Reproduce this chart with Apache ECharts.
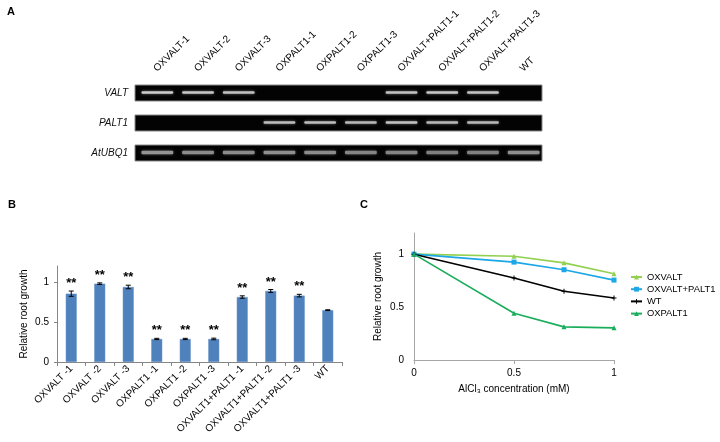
<!DOCTYPE html>
<html><head><meta charset="utf-8">
<script src="https://cdn.jsdelivr.net/npm/echarts@6/dist/echarts.min.js"></script>
<style>html,body{margin:0;padding:0;background:#fff}#c{width:720px;height:442px}</style>
</head><body><div id="c"></div>
<script>
// Panel A: RT-PCR gel
const lanes = ['OXVALT-1','OXVALT-2','OXVALT-3','OXPALT1-1','OXPALT1-2','OXPALT1-3','OXVALT+PALT1-1','OXVALT+PALT1-2','OXVALT+PALT1-3','WT'];
const genes = ['VALT','PALT1','AtUBQ1'];
const valtBands  = [0.8,0.78,0.76,0,0,0,0.76,0.78,0.76,0];
const palt1Bands = [0,0,0,0.74,0.74,0.72,0.76,0.72,0.72,0];
const ubqBands   = [0.58,0.55,0.55,0.56,0.55,0.52,0.52,0.5,0.5,0.56];

// Panel B: relative root growth
const barCategories = ['OXVALT -1','OXVALT -2','OXVALT -3','OXPALT1 -1','OXPALT1 -2','OXPALT1 -3','OXVALT1+PALT1 -1','OXVALT1+PALT1 -2','OXVALT1+PALT1 -3','WT'];
const barMeans  = [0.854,0.979,0.938,0.288,0.288,0.288,0.812,0.888,0.830,0.648];
const barErrors = [0.033,0.010,0.022,0.008,0.008,0.010,0.015,0.018,0.016,0.005];
const barSignif = ['**','**','**','**','**','**','**','**','**',''];
const barTicks = [0, 0.5, 1];

// Panel C: dose response
const alclConc = [0, 0.5, 0.75, 1];
const oxvalt      = [1, 0.981, 0.918, 0.815];
const oxvaltPalt1 = [1, 0.925, 0.853, 0.755];
const wt          = [1, 0.774, 0.649, 0.586];
const oxpalt1     = [1, 0.442, 0.313, 0.304];

const FONT = 'Liberation Sans, Arial, sans-serif';
const gelRows = [valtBands, palt1Bands, ubqBands];
const bandData = [];
gelRows.forEach((row, g) => row.forEach((v, l) => bandData.push([l, g, v])));
const stripData = genes.map((g, i) => [0, i]);

const chart = echarts.init(document.getElementById('c'), null, {renderer: 'canvas'});
const lineSeries = (name, data, color, symbol, size) => ({
  type: 'line', name, xAxisIndex: 2, yAxisIndex: 2,
  data: alclConc.map((x, i) => [x, data[i]]),
  symbol, symbolSize: size,
  lineStyle: {color, width: 1.6}, itemStyle: {color}, showSymbol: true, z: 3
});

chart.setOption({
  animation: false,
  textStyle: {fontFamily: FONT},
  title: [
    {text: 'A', left: 2, top: 1, textStyle: {fontSize: 11, fontWeight: 'bold', color: '#000'}},
    {text: 'B', left: 3, top: 194, textStyle: {fontSize: 11, fontWeight: 'bold', color: '#000'}},
    {text: 'C', left: 355, top: 194, textStyle: {fontSize: 11, fontWeight: 'bold', color: '#000'}}
  ],
  legend: {
    orient: 'vertical', left: 630, top: 272.5, padding: 0, itemWidth: 11, itemHeight: 6, itemGap: 3.2,
    textStyle: {fontSize: 9.4, color: '#000', fontFamily: FONT},
    data: ['OXVALT', 'OXVALT+PALT1', 'WT', 'OXPALT1']
  },
  grid: [
    {left: 135, width: 407, top: 78, height: 90},
    {left: 57, right: 378, top: 266, bottom: 80},
    {left: 414, right: 106, top: 233, bottom: 82}
  ],
  xAxis: [
    {gridIndex: 0, type: 'category', data: lanes, position: 'top',
     axisLine: {show: false}, axisTick: {show: false},
     axisLabel: {rotate: -45, interval: 0, margin: 8, fontSize: 10, color: '#000'}},
    {gridIndex: 1, type: 'category', data: barCategories,
     axisLine: {lineStyle: {color: '#868686'}},
     axisTick: {show: true, length: 4, lineStyle: {color: '#868686'}},
     axisLabel: {rotate: 45, interval: 0, margin: 5, fontSize: 10, color: '#000'}},
    {gridIndex: 2, type: 'value', min: 0, max: 1, interval: 0.5,
     axisLine: {show: true, lineStyle: {color: '#a6a6a6'}},
     axisTick: {show: true, length: 4, lineStyle: {color: '#a6a6a6'}},
     splitLine: {show: false},
     axisLabel: {margin: 8, fontSize: 10, color: '#000', formatter: v => String(v)},
     name: 'AlCl\u2083 concentration (mM)', nameLocation: 'middle', nameGap: 24,
     nameTextStyle: {fontSize: 10, color: '#000'}}
  ],
  yAxis: [
    {gridIndex: 0, type: 'category', data: genes, inverse: true,
     axisLine: {show: false}, axisTick: {show: false},
     axisLabel: {fontStyle: 'italic', fontSize: 10, color: '#111', margin: 7}},
    {gridIndex: 1, type: 'value', min: 0, max: 1.2, interval: 0.5,
     axisLine: {show: true, lineStyle: {color: '#868686'}},
     axisTick: {show: true, length: 3, lineStyle: {color: '#868686'}},
     splitLine: {show: false},
     axisLabel: {showMaxLabel: false, margin: 8, fontSize: 10, color: '#000',
       formatter: v => barTicks.includes(v) ? String(v) : ''},
     name: 'Relative root growth', nameLocation: 'middle', nameGap: 28,
     nameTextStyle: {fontSize: 10, color: '#000'}},
    {gridIndex: 2, type: 'value', min: 0, max: 1.2, interval: 0.5,
     axisLine: {show: true, lineStyle: {color: '#a6a6a6'}},
     axisTick: {show: false},
     splitLine: {show: false},
     axisLabel: {showMaxLabel: false, margin: 10, fontSize: 10, color: '#000',
       formatter: v => barTicks.includes(v) ? String(v) : ''},
     name: 'Relative root growth', nameLocation: 'middle', nameGap: 31,
     nameTextStyle: {fontSize: 10, color: '#000'}}
  ],
  series: [
    {type: 'custom', xAxisIndex: 0, yAxisIndex: 0, data: stripData, z: 1, silent: true,
     renderItem: (params, api) => {
       const cs = params.coordSys;
       const cy = api.coord([0, api.value(1)])[1];
       return {type: 'rect', shape: {x: cs.x, y: cy - 8, width: cs.width, height: 16},
               style: {fill: '#030303', stroke: '#8a8a8a', lineWidth: 1}};
     }},
    {type: 'custom', xAxisIndex: 0, yAxisIndex: 0, data: bandData, z: 2, silent: true,
     renderItem: (params, api) => {
       const v = api.value(2);
       if (!v) return {type: 'group', children: []};
       const c = api.coord([api.value(0), api.value(1)]);
       const w = api.size([1, 0])[0] * 0.78;
       const h = api.value(1) === 2 ? 3.5 : 2.5;
       const g = Math.round(255 * v);
       return {type: 'rect', shape: {x: c[0] - w / 2 + 2, y: c[1] - h / 2 - 0.5, width: w, height: h, r: 1},
               style: {fill: `rgb(${g},${g},${g})`, shadowBlur: 3, shadowColor: `rgba(${g},${g},${g},0.6)`}};
     }},
    {type: 'bar', xAxisIndex: 1, yAxisIndex: 1, data: barMeans, barWidth: 11,
     itemStyle: {color: '#4f81bd', borderColor: '#6b95c9', borderWidth: 0.5}, z: 2},
    {type: 'custom', xAxisIndex: 1, yAxisIndex: 1, z: 3, silent: true,
     data: barMeans.map((m, i) => [i, m, barErrors[i]]),
     renderItem: (params, api) => {
       const i = api.value(0), m = api.value(1), e = api.value(2);
       const top = api.coord([i, m + e]), bot = api.coord([i, m - e]);
       const x = top[0], cap = 2.5;
       const st = {stroke: '#000', lineWidth: 1};
       const children = [
         {type: 'line', shape: {x1: x, y1: top[1], x2: x, y2: bot[1]}, style: st},
         {type: 'line', shape: {x1: x - cap, y1: top[1], x2: x + cap, y2: top[1]}, style: st},
         {type: 'line', shape: {x1: x - cap, y1: bot[1], x2: x + cap, y2: bot[1]}, style: st}
       ];
       const s = barSignif[params.dataIndex];
       if (s) children.push({type: 'text', style: {text: s, x: x, y: top[1] - 1, align: 'center', verticalAlign: 'bottom',
                              font: 'bold 13px ' + FONT, fill: '#000'}});
       return {type: 'group', children};
     }},
    lineSeries('OXVALT', oxvalt, '#92d050', 'triangle', 5),
    lineSeries('OXVALT+PALT1', oxvaltPalt1, '#1ca7e6', 'rect', 5),
    lineSeries('WT', wt, '#000000', 'path://M4,0H6V4H10V6H6V10H4V6H0V4H4Z', 5),
    lineSeries('OXPALT1', oxpalt1, '#1aae5c', 'triangle', 5)
  ]
});
</script></body></html>
